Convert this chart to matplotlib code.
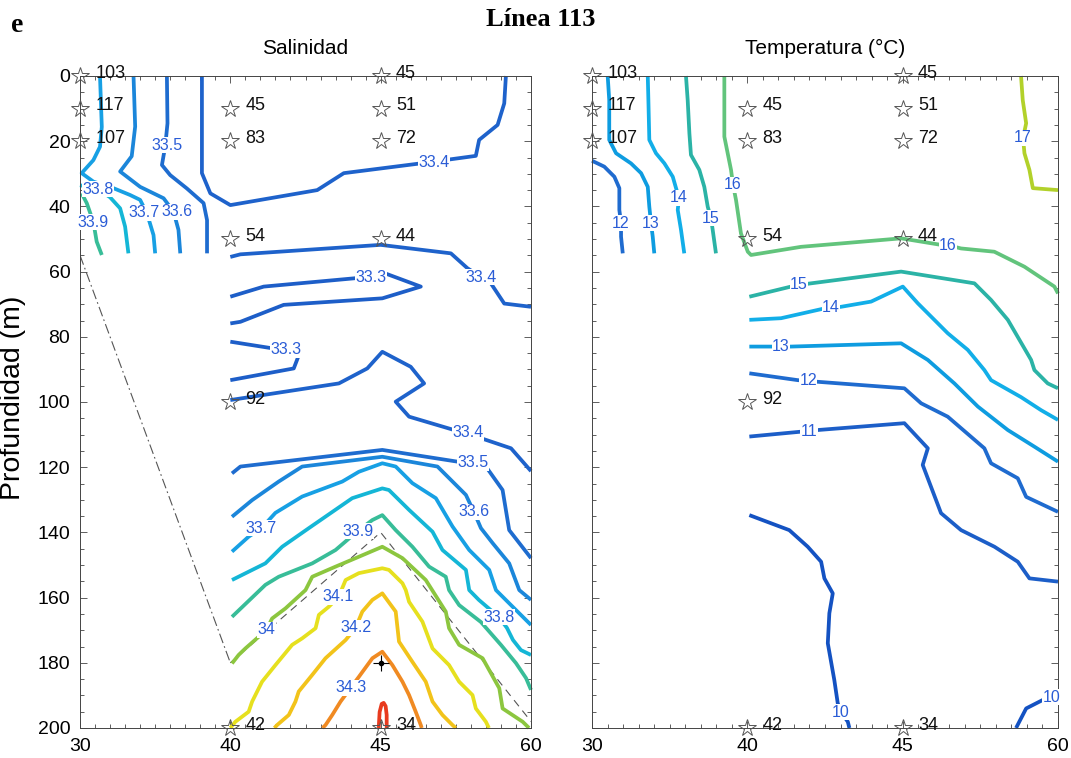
import matplotlib
matplotlib.use("Agg")
import matplotlib.pyplot as plt
from matplotlib.ticker import MultipleLocator

#----------------------------------------------------------------------------#
            # Data #
#----------------------------------------------------------------------------#

# Stations are evenly spaced on the section: index 0..3 -> station 30, 40, 45, 60
station_pos = [0, 1, 2, 3]
station_names = ['30', '40', '45', '60']

# Bottle samples (station index, depth) with their sample number
sample_x = [0, 0, 0, 1, 1, 1, 1, 1, 2, 2, 2, 2, 2]
sample_z = [0, 10, 20, 10, 20, 50, 100, 200, 0, 10, 20, 50, 200]
sample_id = ['103', '117', '107', '45', '83', '54', '92', '42', '45', '51', '72', '44', '34']

# --- Salinity isolines (station index, depth m) ---
sal_334_top = [(0.811, 0), (0.811, 29.8), (0.867, 36.0), (1.0, 39.6), (1.578, 35.0), (1.755, 29.8),
               (2.267, 26.8), (2.633, 24.5), (2.655, 19.6), (2.778, 15.0), (2.822, 8.4), (2.833, 0)]
sal_335_top = [(0.578, 0), (0.582, 14.5), (0.567, 21.5), (0.545, 27.3), (0.6, 30.4), (0.711, 34.5),
               (0.822, 39.0), (0.845, 44.2), (0.845, 54.4)]
sal_336_top = [(0.356, 0), (0.367, 15.5), (0.344, 24.6), (0.267, 29.3), (0.4, 34.0), (0.556, 37.5),
               (0.622, 41.6), (0.655, 47.2), (0.667, 54.4)]
sal_337_top = [(0.133, 0), (0.145, 15.6), (0.133, 21.7), (0.089, 25.8), (0.011, 29.8), (0.089, 32.4),
               (0.222, 34.4), (0.333, 36.5), (0.4, 38.0), (0.445, 42.1), (0.489, 48.8), (0.5, 54.4)]
sal_338_top = [(0.0, 33.5), (0.12, 34.7), (0.2, 37.2), (0.267, 40.6), (0.3, 46.2), (0.322, 54.4)]
sal_339_top = [(0.011, 36.0), (0.045, 39.0), (0.089, 44.8), (0.111, 50.8), (0.145, 54.9)]

sal_334_mid = [(1.0, 55.5), (1.067, 54.7), (2.0, 51.8), (2.467, 54.4), (2.578, 59.0), (2.667, 61.6),
               (2.733, 63.6), (2.822, 69.8), (3.0, 70.8)]
sal_333_a = [(1.0, 67.7), (1.222, 64.6), (1.933, 61.6), (2.033, 60.6), (2.267, 64.6), (2.011, 68.2),
             (1.355, 70.2), (1.067, 75.4), (1.0, 75.9)]
sal_333_b = [(1.0, 81.5), (1.289, 83.6), (1.378, 84.0), (1.456, 85.6), (1.422, 89.7), (1.0, 93.3)]
sal_334_low = [(1.0, 99.4), (1.722, 94.3), (1.911, 89.7), (2.011, 84.6), (2.2, 89.2), (2.289, 94.3),
               (2.1, 99.9), (2.189, 104.5), (2.489, 108.6), (2.578, 109.6), (2.667, 111.1),
               (2.867, 114.2), (3.0, 121.2)]
sal_335_low = [(1.011, 121.9), (1.067, 119.8), (2.011, 114.7), (2.511, 118.3), (2.611, 118.8),
               (2.7, 119.8), (2.811, 127.0), (2.855, 139.3), (3.0, 147.9)]
sal_336_low = [(1.011, 135.2), (1.145, 130.1), (1.322, 124.4), (1.478, 119.8), (2.011, 116.8),
               (2.378, 119.8), (2.567, 128.5), (2.62, 133.7), (2.667, 138.7), (2.745, 143.3),
               (2.855, 149.5), (2.922, 157.7), (3.0, 160.7)]
sal_337_low = [(1.011, 145.9), (1.122, 141.3), (1.207, 138.7), (1.3, 134.0), (1.478, 129.0),
               (1.745, 124.4), (1.855, 121.4), (2.011, 118.8), (2.1, 119.8), (2.211, 124.9),
               (2.367, 129.5), (2.478, 138.2), (2.589, 145.4), (2.722, 151.5), (2.767, 157.7),
               (2.867, 162.3), (3.0, 168.4)]
sal_338_low = [(1.011, 154.6), (1.233, 149.5), (1.345, 144.4), (1.522, 138.7), (1.811, 129.5),
               (2.011, 126.5), (2.055, 127.0), (2.189, 133.1), (2.345, 139.8), (2.411, 145.4),
               (2.567, 151.5), (2.589, 157.7), (2.653, 160.7), (2.787, 166.0), (2.84, 169.3),
               (2.88, 173.0), (2.933, 176.1), (3.0, 177.6)]
sal_339_low = [(1.011, 165.9), (1.233, 156.1), (1.322, 153.6), (1.545, 149.5), (1.7, 145.4),
               (1.847, 139.6), (1.945, 136.2), (2.011, 134.7), (2.1, 139.3), (2.211, 144.4),
               (2.322, 150.5), (2.433, 153.6), (2.455, 157.7), (2.522, 162.3), (2.667, 167.5),
               (2.8, 174.5), (2.9, 180.1), (2.967, 184.7), (3.0, 188.3)]
sal_340 = [(1.011, 180.2), (1.055, 177.6), (1.1, 175.6), (1.189, 172.0), (1.24, 169.9), (1.278, 166.4),
           (1.367, 163.3), (1.5, 157.7), (1.545, 153.6), (1.7, 150.5), (1.833, 147.9), (2.011, 144.4),
           (2.145, 147.9), (2.3, 154.6), (2.433, 164.3), (2.455, 169.4), (2.522, 174.5),
           (2.678, 178.6), (2.789, 187.8), (2.811, 194.0), (2.945, 198.1), (2.987, 200)]
sal_341 = [(1.0, 200), (1.033, 198.1), (1.122, 195.0), (1.145, 191.9), (1.211, 185.8), (1.3, 180.7),
           (1.411, 174.5), (1.478, 172.5), (1.567, 169.4), (1.589, 165.3), (1.655, 162.8),
           (1.72, 159.8), (1.767, 154.6), (1.855, 152.5), (2.011, 151.0), (2.055, 151.5),
           (2.145, 155.6), (2.167, 157.7), (2.189, 161.3), (2.278, 167.4), (2.345, 175.6),
           (2.455, 180.7), (2.522, 185.8), (2.611, 189.9), (2.633, 194.0), (2.7, 198.1), (2.72, 200)]
sal_342 = [(1.293, 200), (1.311, 199.1), (1.389, 196.0), (1.433, 191.9), (1.455, 188.8), (1.545, 183.7),
           (1.633, 178.6), (1.767, 173.0), (1.833, 169.3), (1.878, 164.3), (1.945, 160.7),
           (2.011, 158.7), (2.1, 164.3), (2.122, 173.5), (2.211, 179.7), (2.3, 185.8),
           (2.345, 191.9), (2.411, 196.0), (2.478, 199.1), (2.5, 200)]
sal_343 = [(1.613, 200), (1.633, 199.1), (1.678, 196.0), (1.733, 191.9), (1.8, 187.7), (1.855, 184.3),
           (1.945, 178.6), (2.011, 176.6), (2.078, 180.7), (2.145, 185.8), (2.189, 189.9),
           (2.233, 195.0), (2.267, 199.1), (2.273, 200)]
sal_344 = [(1.987, 200), (1.993, 195.1), (2.007, 192.6), (2.02, 192.3), (2.033, 193.3), (2.04, 196.0),
           (2.04, 200)]

# inline labels of the salinity isolines (x, depth, text)
sal_lbl_x = [0.58, 0.12, 0.087, 0.425, 0.645, 2.353, 2.667, 1.933, 1.373, 2.58, 2.613, 2.62,
             1.207, 1.847, 1.72, 2.787, 1.24, 1.833, 1.8]
sal_lbl_z = [21.2, 34.7, 44.8, 42.0, 41.7, 26.4, 61.7, 61.7, 84.0, 109.5, 118.7, 133.7,
             138.7, 139.6, 159.8, 166.0, 169.9, 169.3, 187.7]
sal_lbl_txt = ['33.5', '33.8', '33.9', '33.7', '33.6', '33.4', '33.4', '33.3', '33.3', '33.4', '33.5',
               '33.6', '33.7', '33.9', '34.1', '33.8', '34', '34.2', '34.3']

# bottom profile and shelf outline
bottom_x = [0, 1]
bottom_z = [55, 180]
outline_x = [1, 2, 3]
outline_z = [180, 140, 198]
max_x, max_z = 2, 180

# --- Temperature isolines (station index, depth m) ---
tem_12_top = [(0.0, 26.0), (0.079, 27.8), (0.144, 30.9), (0.176, 34.4), (0.176, 41.1), (0.187, 45.1),
              (0.187, 49.3), (0.198, 54.4)]
tem_13_top = [(0.101, 0), (0.111, 7.4), (0.111, 19.6), (0.155, 23.7), (0.251, 26.8), (0.316, 29.8),
              (0.359, 34.0), (0.369, 40.1), (0.38, 45.1), (0.391, 49.3), (0.401, 54.4)]
tem_14_top = [(0.359, 0), (0.363, 7.4), (0.369, 19.6), (0.412, 23.7), (0.466, 26.8), (0.52, 30.9),
              (0.541, 34.4), (0.56, 37.4), (0.552, 41.1), (0.573, 47.2), (0.594, 54.4)]
tem_15_top = [(0.605, 0), (0.616, 7.4), (0.627, 17.6), (0.637, 24.2), (0.691, 28.8), (0.723, 34.0),
              (0.745, 40.1), (0.766, 43.6), (0.777, 47.2), (0.798, 54.4)]
tem_16 = [(0.852, 0), (0.852, 18.6), (0.895, 28.8), (0.908, 33.4), (0.927, 38.0), (0.959, 48.3),
          (1.003, 53.9), (1.024, 54.9), (1.346, 52.4), (1.99, 49.8), (2.247, 51.8), (2.292, 51.9),
          (2.376, 52.9), (2.59, 53.9), (2.784, 58.5), (2.977, 64.6), (3.0, 66.7)]
tem_17 = [(2.762, 0), (2.773, 7.4), (2.795, 14.5), (2.775, 19.0), (2.784, 23.7), (2.816, 28.8),
          (2.838, 34.4), (3.0, 35.0)]
tem_15 = [(1.013, 67.7), (1.281, 64.6), (1.333, 64.1), (1.41, 63.6), (1.99, 60.0), (2.462, 63.6),
          (2.569, 68.7), (2.677, 74.8), (2.827, 87.1), (2.848, 90.2), (2.934, 94.3), (3.0, 95.8)]
tem_14 = [(1.013, 74.8), (1.217, 74.3), (1.496, 71.3), (1.539, 71.1), (1.603, 70.8), (1.797, 69.2),
          (2.001, 64.6), (2.097, 69.7), (2.29, 78.9), (2.419, 84.0), (2.526, 90.2), (2.569, 93.3),
          (2.762, 98.5), (2.891, 102.5), (3.0, 105.5)]
tem_13 = [(1.013, 83.0), (1.174, 83.0), (1.217, 83.0), (1.281, 83.0), (1.99, 82.0), (2.162, 87.1),
          (2.333, 94.3), (2.484, 101.4), (2.677, 108.6), (2.848, 113.7), (3.0, 118.3)]
tem_12 = [(1.013, 91.2), (1.325, 93.3), (1.391, 93.5), (1.453, 93.8), (2.011, 95.8), (2.119, 100.4),
          (2.29, 104.5), (2.526, 114.2), (2.569, 118.8), (2.741, 123.4), (2.795, 129.1), (3.0, 133.7)]
tem_11 = [(1.013, 110.6), (1.346, 109.1), (1.397, 108.9), (1.453, 108.6), (2.011, 106.5),
          (2.162, 114.2), (2.129, 119.3), (2.247, 134.1), (2.376, 139.3), (2.591, 144.4),
          (2.741, 149.0), (2.816, 154.1), (3.0, 155.1)]
tem_10_a = [(1.013, 134.7), (1.27, 139.3), (1.389, 144.4), (1.475, 149.0), (1.496, 154.1), (1.55, 158.7),
            (1.528, 164.8), (1.518, 174.0), (1.56, 185.3), (1.582, 192.4), (1.603, 195.1),
            (1.647, 198.1), (1.657, 200)]
tem_10_b = [(2.73, 200), (2.795, 194.0), (2.902, 191.4), (2.956, 190.5), (3.0, 189.4)]

tem_lbl_x = [0.187, 0.38, 0.56, 0.766, 0.908, 2.775, 2.292, 1.333, 1.539, 1.217, 1.391, 1.397,
             1.603, 2.956]
tem_lbl_z = [45.1, 45.1, 37.4, 43.6, 33.4, 19.0, 51.9, 64.1, 71.1, 83.0, 93.5, 108.9, 195.1, 190.5]
tem_lbl_txt = ['12', '13', '14', '15', '16', '17', '16', '15', '14', '13', '12', '11', '10', '10']

#----------------------------------------------------------------------------#
            # Colours #
#----------------------------------------------------------------------------#

sal_colors = {33.3: '#1d5ec8', 33.4: '#1e62cb', 33.5: '#1e6ccf', 33.6: '#1b86da', 33.7: '#17a0e4',
              33.8: '#14b6d6', 33.9: '#38bd98', 34.0: '#8cc63f', 34.1: '#e6e01e',
              34.2: '#f2c31a', 34.3: '#f08a22', 34.4: '#e83a1e'}
tem_colors = {10: '#1452c2', 11: '#1c5ec8', 12: '#1f6bcf', 13: '#0e9ce0', 14: '#12aee8',
              15: '#2bb3a6', 16: '#62c47c', 17: '#b2d12a'}

sal_lines = [(33.4, sal_334_top), (33.5, sal_335_top), (33.6, sal_336_top), (33.7, sal_337_top),
             (33.8, sal_338_top), (33.9, sal_339_top), (33.4, sal_334_mid), (33.3, sal_333_a),
             (33.3, sal_333_b), (33.4, sal_334_low), (33.5, sal_335_low), (33.6, sal_336_low),
             (33.7, sal_337_low), (33.8, sal_338_low), (33.9, sal_339_low), (34.0, sal_340),
             (34.1, sal_341), (34.2, sal_342), (34.3, sal_343), (34.4, sal_344)]
tem_lines = [(12, tem_12_top), (13, tem_13_top), (14, tem_14_top), (15, tem_15_top), (16, tem_16),
             (17, tem_17), (15, tem_15), (14, tem_14), (13, tem_13), (12, tem_12), (11, tem_11),
             (10, tem_10_a), (10, tem_10_b)]

plt.rcParams['font.family'] = ['Liberation Sans', 'DejaVu Sans']
label_blue = '#2a5cd6'

#----------------------------------------------------------------------------#
            # Functions #
#----------------------------------------------------------------------------#

def setup_axis(ax, show_ylabels):
    ax.set_xlim(0, 3)
    ax.set_ylim(200, 0)
    ax.set_xticks(station_pos)
    ax.set_xticklabels(station_names)
    ax.set_yticks(range(0, 201, 20))
    if not show_ylabels:
        ax.set_yticklabels([])
    ax.xaxis.set_minor_locator(MultipleLocator(0.1))
    ax.yaxis.set_minor_locator(MultipleLocator(5))
    ax.tick_params(which='both', direction='in', top=True, right=True, width=0.6, color='#444')
    ax.tick_params(which='major', length=5, labelsize=14, pad=7)
    ax.tick_params(which='minor', length=3)
    for sp in ax.spines.values():
        sp.set_linewidth(0.7)
        sp.set_color('#444')


def draw_lines(ax, lines, colors):
    for level, pts in lines:
        xs = [p[0] for p in pts]
        zs = [p[1] for p in pts]
        ax.plot(xs, zs, color=colors[level], lw=2.7, solid_joinstyle='round',
                solid_capstyle='butt', zorder=2, clip_on=False)


def draw_labels(ax, xs, zs, texts):
    for x, z, t in zip(xs, zs, texts):
        ax.text(x, z, t, color=label_blue, fontsize=11.5, ha='center', va='center',
                zorder=3, bbox=dict(fc='white', ec='none', pad=0.3))


def draw_samples(ax):
    ax.plot(sample_x, sample_z, ls='none', marker='*', ms=13, mfc='none', mec='#555',
            mew=0.7, zorder=5, clip_on=False)
    for x, z, s in zip(sample_x, sample_z, sample_id):
        ax.annotate(s, (x, z), xytext=(11, 2), textcoords='offset points', fontsize=13,
                    va='center', ha='left', color='#111', zorder=6, annotation_clip=False)

#----------------------------------------------------------------------------#
            # Figure #
#----------------------------------------------------------------------------#

fig = plt.figure(figsize=(10.71, 7.58), dpi=100)
axS = fig.add_axes([80 / 1071, 1 - 728 / 758, 451 / 1071, 652 / 758])
axT = fig.add_axes([592 / 1071, 1 - 728 / 758, 466 / 1071, 652 / 758])

# Salinity panel
setup_axis(axS, True)
draw_lines(axS, sal_lines, sal_colors)
axS.plot(bottom_x, bottom_z, color='#555', lw=0.8, ls=(0, (9, 3, 1.5, 3)), zorder=1)
axS.plot(outline_x, outline_z, color='#555', lw=0.8, ls=(0, (7, 5)), zorder=1)
draw_labels(axS, sal_lbl_x, sal_lbl_z, sal_lbl_txt)
axS.plot(max_x, max_z, marker='+', ms=11, mew=0.8, color='k', zorder=6)
axS.plot(max_x, max_z, marker='o', ms=3, color='k', zorder=6)
draw_samples(axS)
axS.set_title('Salinidad', fontsize=15, pad=16)

# Temperature panel
setup_axis(axT, False)
draw_lines(axT, tem_lines, tem_colors)
draw_labels(axT, tem_lbl_x, tem_lbl_z, tem_lbl_txt)
draw_samples(axT)
axT.set_title('Temperatura (°C)', fontsize=15, pad=16)

fig.text(13 / 1071, 0.475, 'Profundidad (m)', rotation=90, fontsize=20.5, ha='center', va='center')
fig.text(0.505, 0.974, 'Línea 113', family='Liberation Serif', fontweight='bold', fontsize=19,
         ha='center', va='center')
fig.text(0.016, 0.966, 'e', family='Liberation Serif', fontweight='bold', fontsize=20,
         ha='center', va='center')

fig.savefig('out.png', dpi=100)
